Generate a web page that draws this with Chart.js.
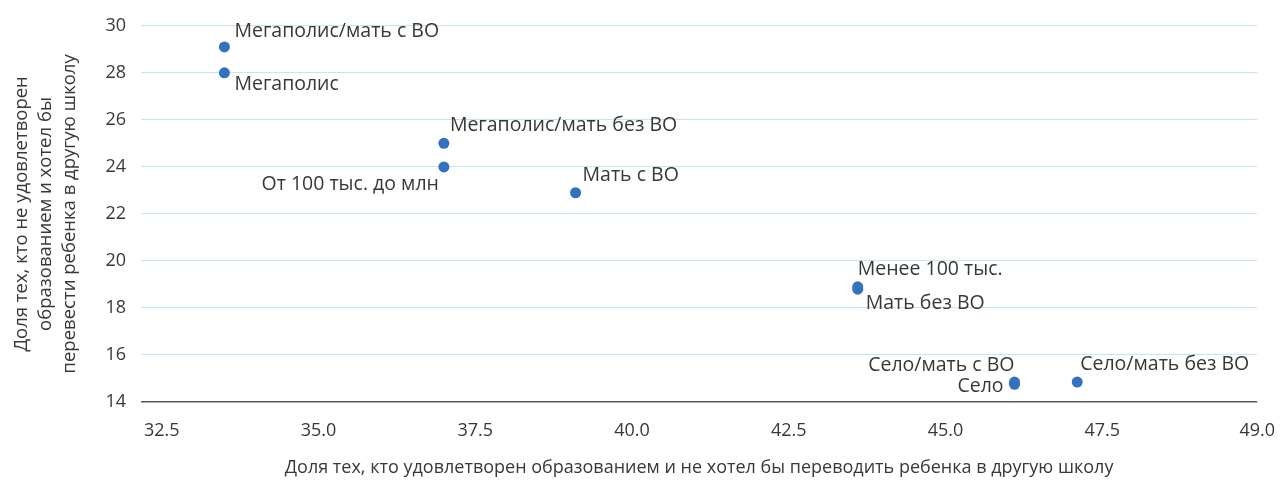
<!DOCTYPE html>
<html lang="ru">
<head>
<meta charset="utf-8">
<script src="https://cdn.jsdelivr.net/npm/chart.js@4.4.1/dist/chart.umd.min.js"></script>
<style>
  html, body { margin: 0; padding: 0; background: #fff; }
  #wrap { width: 1285px; height: 480px; position: relative; }
</style>
</head>
<body>
<div id="wrap"><canvas id="scatterChart"></canvas></div>
<script>
// Группы и их значения
var groupNames = ['Мегаполис/мать с ВО', 'Мегаполис', 'Мегаполис/мать без ВО', 'От 100 тыс. до млн',
    'Мать с ВО', 'Менее 100 тыс.', 'Мать без ВО', 'Село/мать с ВО', 'Село', 'Село/мать без ВО'];
var satisfiedShare = [33.5, 33.5, 37.0, 37.0, 39.1, 43.6, 43.6, 46.1, 46.1, 47.1];
var unsatisfiedShare = [29.1, 28.0, 25.0, 24.0, 22.9, 18.9, 18.8, 14.85, 14.75, 14.85];

// Подписи осей
var xTickValues = [32.5, 35.0, 37.5, 40.0, 42.5, 45.0, 47.5];
var xTickLabels = ['32.5', '35.0', '37.5', '40.0', '42.5', '45.0', '47.5', '49.0'];
var xTitle = 'Доля тех, кто удовлетворен образованием и не хотел бы переводить ребенка в другую школу';
var yTitle = ['Доля тех, кто не удовлетворен', 'образованием и хотел бы', 'перевести ребенка в другую школу'];

// Расположение подписей точек: [выравнивание, dx, dy]
var labelPlacement = [
    ['left', 10, -16], ['left', 10, 12], ['left', 6, -18], ['right', -5, 18], ['left', 7, -17],
    ['left', 0, -17], ['left', 8, 14], ['right', 0, -17], ['right', -11, 2], ['left', 3, -18]
];

var FONT = '"Open Sans", Roboto, sans-serif';
var TEXT = '#383838';

var pointLabels = {
    id: 'pointLabels',
    afterDatasetsDraw: function (chart) {
        var ctx = chart.ctx;
        var meta = chart.getDatasetMeta(0);
        ctx.save();
        ctx.font = '19.5px ' + FONT;
        ctx.fillStyle = TEXT;
        ctx.textBaseline = 'middle';
        meta.data.forEach(function (pt, i) {
            var p = labelPlacement[i];
            ctx.textAlign = p[0];
            ctx.fillText(groupNames[i], pt.x + p[1], pt.y + p[2]);
        });
        ctx.restore();
    }
};

var points = satisfiedShare.map(function (v, i) {
    return { x: v, y: unsatisfiedShare[i] };
});

var chart = new Chart(document.getElementById('scatterChart'), {
    type: 'scatter',
    data: {
        datasets: [{
            label: 'Группы',
            data: points,
            backgroundColor: '#3571bf',
            borderWidth: 0,
            pointRadius: 5.5,
            pointHoverRadius: 5.5
        }]
    },
    options: {
        responsive: true,
        maintainAspectRatio: false,
        animation: false,
        layout: { padding: { top: 24, right: 22, bottom: 0, left: 0 } },
        plugins: {
            legend: { display: false },
            tooltip: { enabled: false }
        },
        scales: {
            x: {
                type: 'linear',
                min: 32.17,
                max: 49.97,
                grid: { display: false },
                border: { display: false },
                afterBuildTicks: function (scale) {
                    scale.ticks = xTickValues.concat([scale.max]).map(function (v) { return { value: v }; });
                },
                afterFit: function (scale) { scale.height = 78; },
                ticks: {
                    autoSkip: false,
                    maxRotation: 0,
                    padding: 10,
                    color: TEXT,
                    font: { family: FONT, size: 18 },
                    callback: function (value, index) { return xTickLabels[index]; }
                },
                title: {
                    display: true,
                    text: xTitle,
                    color: TEXT,
                    font: { family: FONT, size: 18, lineHeight: 1.2 },
                    padding: { top: 0, bottom: 1 }
                }
            },
            y: {
                min: 14,
                max: 30,
                grid: {
                    drawTicks: false,
                    color: function (c) { return c.tick && c.tick.value === 14 ? '#595959' : '#c5e5f5'; },
                    lineWidth: function (c) { return c.tick && c.tick.value === 14 ? 1.5 : 1; }
                },
                border: { display: false },
                afterFit: function (scale) { scale.width = 141; },
                ticks: {
                    stepSize: 2,
                    padding: 15,
                    color: TEXT,
                    font: { family: FONT, size: 18 }
                },
                title: {
                    display: true,
                    text: yTitle,
                    color: TEXT,
                    font: { family: FONT, size: 18.5, lineHeight: 1.3 },
                    padding: { top: 10, bottom: 0 }
                }
            }
        }
    },
    plugins: [pointLabels]
});
</script>
</body>
</html>
